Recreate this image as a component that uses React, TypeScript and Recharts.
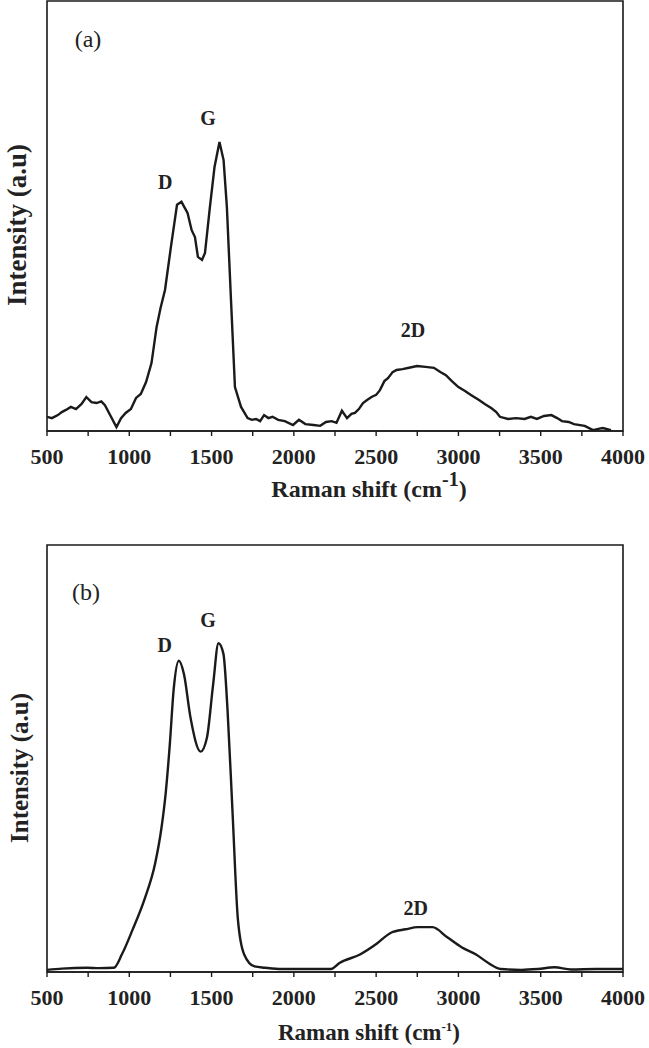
import React from 'react';
import { LineChart, Line, XAxis, YAxis, ReferenceArea, ReferenceDot } from 'recharts';

// Raman spectrum (a): shift in cm-1, intensity in arbitrary units
const shiftA = [
  500, 530, 566, 590, 615, 645, 676, 710, 739, 770, 801, 830, 852, 889, 922, 950, 978,
  1010, 1041, 1070, 1102, 1135, 1166, 1190, 1217, 1253, 1290, 1317, 1354, 1379, 1399,
  1417, 1442, 1460, 1490, 1518, 1548, 1573, 1593, 1618, 1642, 1679, 1719, 1745, 1770,
  1795, 1819, 1845, 1870, 1905, 1945, 1995, 2031, 2070, 2120, 2160, 2195, 2230, 2259,
  2292, 2323, 2350, 2371, 2395, 2420, 2445, 2472, 2500, 2523, 2550, 2572, 2600, 2624,
  2660, 2700, 2748, 2800, 2851, 2890, 2924, 2960, 3000, 3040, 3076, 3125, 3160, 3201,
  3230, 3252, 3301, 3350, 3402, 3440, 3477, 3520, 3565, 3600, 3629, 3670, 3702, 3767,
  3818, 3850, 3878, 3927,
];
const intensityA = [
  3.3, 3.0, 3.7, 4.4, 4.9, 5.6, 5.1, 6.3, 7.9, 6.7, 6.5, 6.9, 6.0, 3.3, 0.9, 3.0, 4.2,
  5.1, 7.7, 8.6, 11.4, 15.8, 24.2, 28.6, 32.8, 42.8, 52.6, 53.3, 50.7, 46.7, 45.1,
  40.5, 39.8, 41.4, 52.1, 61.4, 67.2, 63.0, 52.1, 30.5, 10.2, 5.6, 3.0, 2.6, 2.8,
  2.3, 3.7, 3.0, 3.3, 2.6, 2.3, 1.4, 2.6, 1.6, 1.4, 1.2, 2.1, 2.3, 1.9,
  4.7, 3.0, 4.0, 4.2, 5.1, 6.5, 7.2, 7.9, 8.4, 9.5, 11.6, 12.3, 13.7, 14.2,
  14.4, 14.7, 15.1, 14.9, 14.7, 13.7, 13.0, 11.6, 10.2, 9.3, 8.4, 7.2, 6.3, 5.3,
  4.4, 3.3, 2.8, 3.0, 2.8, 3.3, 2.8, 3.5, 3.7, 3.0, 2.3, 2.1, 1.6, 1.2,
  0.2, 0.5, 0.7, 0.2,
];

// Raman spectrum (b)
const shiftB = [
  500, 591, 743, 816, 906, 956, 1019, 1095, 1157, 1195, 1221, 1246, 1270, 1301, 1333,
  1371, 1434, 1472, 1509, 1542, 1572, 1597, 1628, 1660, 1698, 1761, 1825, 1925, 2074,
  2226, 2277, 2402, 2503, 2590, 2679, 2754, 2842, 2930, 3019, 3107, 3182, 3257, 3383,
  3483, 3584, 3684, 3836, 4000,
];
const intensityB = [
  0.5, 0.8, 1.0, 0.9, 1.0, 4.2, 9.8, 17.3, 25.4, 33.6, 41.8, 53.2, 66.3, 72.9, 69.6,
  59.8, 51.6, 54.9, 67.2, 77.0, 74.5, 61.4, 36.9, 12.3, 4.1, 1.3, 1.0, 0.7, 0.7,
  0.7, 2.1, 4.1, 6.6, 9.2, 10.0, 10.5, 10.5, 8.2, 5.8, 4.1, 2.1, 0.7, 0.5,
  0.7, 1.1, 0.6, 0.7, 0.7,
];

const xTicks = [500, 750, 1000, 1250, 1500, 1750, 2000, 2250, 2500, 2750, 3000, 3250, 3500, 3750, 4000];

// peak annotations: [text, shift, intensity]
const peaksA: [string, number, number][] = [
  ['D', 1219, 57.9],
  ['G', 1478, 72.8],
  ['2D', 2724, 23.5],
];
const peaksB: [string, number, number][] = [
  ['D', 1215, 76.6],
  ['G', 1478, 82.4],
  ['2D', 2740, 15.1],
];

const serif = '"Liberation Serif", "Times New Roman", serif';
const ink = '#1a1a1a';

const toRows = (xs: number[], ys: number[]) => xs.map((x, i) => ({ x, y: ys[i] }));

interface PanelProps {
  rows: { x: number; y: number }[];
  peaks: [string, number, number][];
  tag: string;
  tagPos: [number, number];
  height: number;
  top: number;
  bottom: number;
  smooth: boolean;
  yTitle: { x: number; y: number; size: number };
  xTitle: { x: number; y: number; size: number; supSize: number; supRise: number };
}

const Panel: React.FC<PanelProps> = ({ rows, peaks, tag, tagPos, height, top, bottom, smooth, yTitle, xTitle }) => (
  <LineChart
    width={649}
    height={height}
    data={rows}
    margin={{ top, right: 26, left: 47, bottom }}
  >
    <XAxis
      dataKey="x"
      type="number"
      domain={[500, 4000]}
      ticks={xTicks}
      tickFormatter={(v: number) => (v % 500 === 0 ? String(v) : '')}
      interval={0}
      height={60}
      tickSize={5}
      tickMargin={12}
      axisLine={{ stroke: ink, strokeWidth: 1.6 }}
      tickLine={{ stroke: ink, strokeWidth: 1.4 }}
      tick={{ fill: '#222', fontSize: 22, fontWeight: 700, fontFamily: serif }}
      allowDataOverflow
    />
    <YAxis type="number" domain={[0, 100]} hide allowDataOverflow />
    <ReferenceArea x1={500} x2={4000} y1={0} y2={100} fill="none" stroke={ink} strokeWidth={1.6} fillOpacity={0} />
    <Line
      type={smooth ? 'monotone' : 'linear'}
      dataKey="y"
      stroke={ink}
      strokeWidth={2.4}
      dot={false}
      isAnimationActive={false}
    />
    <ReferenceDot
      x={tagPos[0]}
      y={tagPos[1]}
      r={0}
      fill="none"
      stroke="none"
      label={{ value: tag, position: 'center', fill: '#222', fontSize: 24, fontFamily: serif }}
    />
    {peaks.map(([name, px, py]) => (
      <ReferenceDot
        key={name}
        x={px}
        y={py}
        r={0}
        fill="none"
        stroke="none"
        label={{ value: name, position: 'center', fill: '#222', fontSize: 20, fontWeight: 700, fontFamily: serif }}
      />
    ))}
    <text
      x={yTitle.x}
      y={yTitle.y}
      transform={`rotate(-90, ${yTitle.x}, ${yTitle.y})`}
      textAnchor="middle"
      fill="#222"
      fontSize={yTitle.size}
      fontWeight={700}
      fontFamily={serif}
    >
      Intensity (a.u)
    </text>
    <text
      x={xTitle.x}
      y={xTitle.y}
      textAnchor="middle"
      fill="#222"
      fontSize={xTitle.size}
      fontWeight={700}
      fontFamily={serif}
    >
      Raman shift (cm
      <tspan dy={-xTitle.supRise} fontSize={xTitle.supSize}>-1</tspan>
      <tspan dy={xTitle.supRise}>)</tspan>
    </text>
  </LineChart>
);

const App: React.FC = () => (
  <div style={{ position: 'absolute', left: 0, top: 0, width: 649, height: 1048, background: '#fff' }}>
    <Panel
      rows={toRows(shiftA, intensityA)}
      peaks={peaksA}
      tag="(a)"
      tagPos={[749, 91.4]}
      height={520}
      top={1}
      bottom={29}
      smooth={false}
      yTitle={{ x: 26, y: 225, size: 27 }}
      xTitle={{ x: 369, y: 497, size: 24, supSize: 20, supRise: 11 }}
    />
    <div style={{ position: 'absolute', left: 0, top: 520 }}>
      <Panel
        rows={toRows(shiftB, intensityB)}
        peaks={peaksB}
        tag="(b)"
        tagPos={[737, 89.2]}
        height={528}
        top={25}
        bottom={16}
        smooth
        yTitle={{ x: 28, y: 248, size: 25 }}
        xTitle={{ x: 369, y: 520, size: 23, supSize: 13, supRise: 9 }}
      />
    </div>
  </div>
);

export default App;
